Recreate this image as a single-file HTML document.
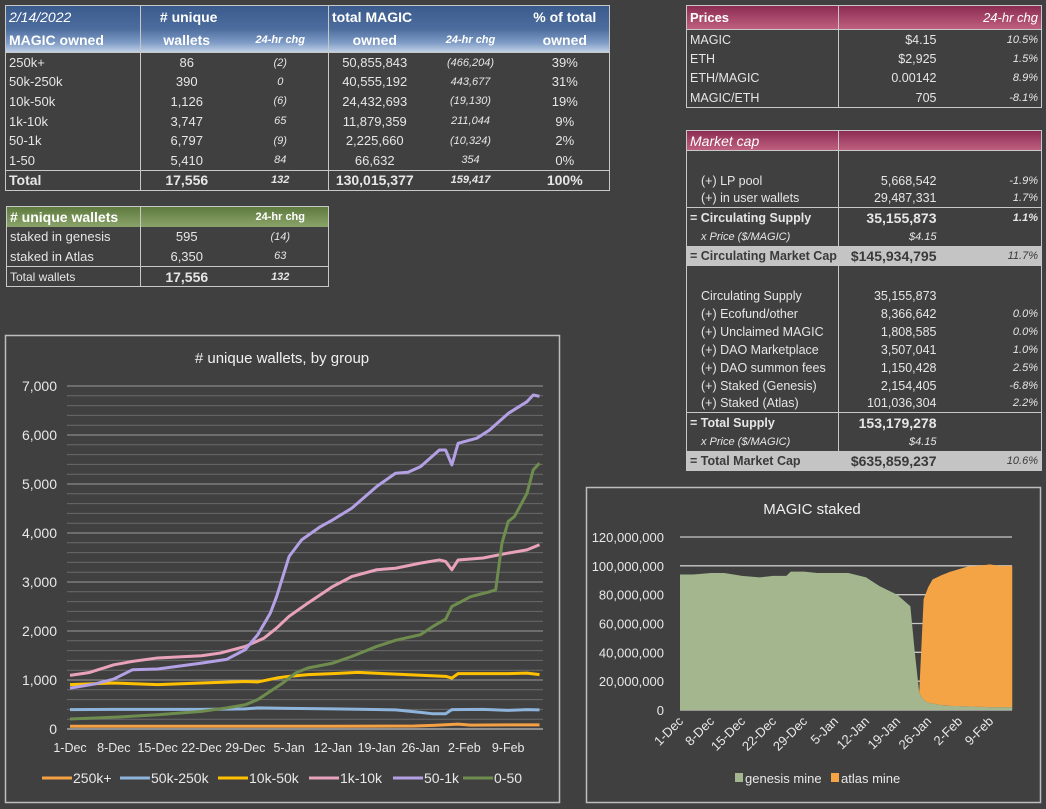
<!DOCTYPE html>
<html><head><meta charset="utf-8">
<style>
body{margin:0;width:1046px;height:809px;background:#404040;overflow:hidden;font-family:"Liberation Sans",sans-serif;color:#e6e6e6;position:relative}
table{position:absolute;border-collapse:collapse;table-layout:fixed;font-size:13px}
td{padding:0 3px;white-space:nowrap;overflow:hidden}
.c{text-align:center}.r{text-align:right}.i{font-style:italic;font-size:11px}.b{font-weight:bold}
.bl{border-left:1px solid #c8c8c8}
.hb{background:linear-gradient(#3d5f91,#5878a8 60%,#a9bedb);color:#fff}
.hg{background:linear-gradient(#5f7a3f,#8aa36a);color:#fff}
.hp{background:linear-gradient(#8c2c52,#c0607f);color:#fff}
.hl td{background:#c4c4c4;color:#3a3a3a}
svg{position:absolute;left:0;top:0}
</style></head><body>
<svg id="charts" width="1046" height="809"></svg>

<table style="left:5px;top:5px;width:604px;border:1px solid #c8c8c8">
<colgroup><col style="width:135px"><col style="width:92px"><col style="width:96px"><col style="width:92px"><col style="width:100px"><col style="width:89px"></colgroup>
<tr class="hb" style="height:23px;font-size:14px;background:linear-gradient(#3a5b8c,#4d6d9e)"><td class="i" style="font-size:14px">2/14/2022</td><td class="c b bl">&nbsp;# unique</td><td></td><td class="b bl">total MAGIC</td><td></td><td class="c b">% of total</td></tr>
<tr class="hb" style="height:24px;font-size:14px;border-bottom:1px solid #c8c8c8;background:linear-gradient(#4d6d9e,#7f9cc6 60%,#c0d0e6)"><td class="b">MAGIC owned</td><td class="c b bl">wallets</td><td class="c b i">24-hr chg</td><td class="c b bl">owned</td><td class="c b i">24-hr chg</td><td class="c b">owned</td></tr>
<tr style="height:19.6px"><td>250k+</td><td class="c bl">86</td><td class="c i">(2)</td><td class="c bl">50,855,843</td><td class="c i">(466,204)</td><td class="c">39%</td></tr>
<tr style="height:19.6px"><td>50k-250k</td><td class="c bl">390</td><td class="c i">0</td><td class="c bl">40,555,192</td><td class="c i">443,677</td><td class="c">31%</td></tr>
<tr style="height:19.6px"><td>10k-50k</td><td class="c bl">1,126</td><td class="c i">(6)</td><td class="c bl">24,432,693</td><td class="c i">(19,130)</td><td class="c">19%</td></tr>
<tr style="height:19.6px"><td>1k-10k</td><td class="c bl">3,747</td><td class="c i">65</td><td class="c bl">11,879,359</td><td class="c i">211,044</td><td class="c">9%</td></tr>
<tr style="height:19.6px"><td>50-1k</td><td class="c bl">6,797</td><td class="c i">(9)</td><td class="c bl">2,225,660</td><td class="c i">(10,324)</td><td class="c">2%</td></tr>
<tr style="height:19.6px"><td>1-50</td><td class="c bl">5,410</td><td class="c i">84</td><td class="c bl">66,632</td><td class="c i">354</td><td class="c">0%</td></tr>
<tr style="height:20px;border-top:1px solid #c8c8c8;font-size:14px" class="b"><td>Total</td><td class="c bl">17,556</td><td class="c i b">132</td><td class="c bl">130,015,377</td><td class="c i b">159,417</td><td class="c">100%</td></tr>
</table>

<table style="left:6px;top:206px;width:322px;border:1px solid #c8c8c8">
<colgroup><col style="width:134px"><col style="width:92px"><col style="width:96px"></colgroup>
<tr class="hg" style="height:20px"><td class="b" style="font-size:14px"># unique wallets</td><td class="bl"></td><td class="c b" style="font-size:11px">24-hr chg</td></tr>
<tr style="height:20px"><td>staked in genesis</td><td class="c bl">595</td><td class="c i">(14)</td></tr>
<tr style="height:20px"><td>staked in Atlas</td><td class="c bl">6,350</td><td class="c i">63</td></tr>
<tr style="height:20px;border-top:1px solid #c8c8c8"><td style="font-size:12px">Total wallets</td><td class="c bl b" style="font-size:14px">17,556</td><td class="c i b">132</td></tr>
</table>

<table style="left:686px;top:5px;width:355px;border:1px solid #c8c8c8;font-size:12.5px">
<colgroup><col style="width:152px"><col style="width:101px"><col style="width:102px"></colgroup>
<tr class="hp" style="height:24px;border-bottom:1px solid #c8c8c8"><td class="b" style="font-size:13px">Prices</td><td class="bl"></td><td class="r i" style="font-size:13px">24-hr chg</td></tr>
<tr style="height:19.5px"><td>MAGIC</td><td class="r bl">$4.15</td><td class="r i">10.5%</td></tr>
<tr style="height:19.5px"><td>ETH</td><td class="r bl">$2,925</td><td class="r i">1.5%</td></tr>
<tr style="height:19.5px"><td>ETH/MAGIC</td><td class="r bl">0.00142</td><td class="r i">8.9%</td></tr>
<tr style="height:19.5px"><td>MAGIC/ETH</td><td class="r bl">705</td><td class="r i">-8.1%</td></tr>
</table>

<table style="left:686px;top:130px;width:355px;border:1px solid #c8c8c8;border-bottom:none;font-size:12.5px">
<colgroup><col style="width:152px"><col style="width:101px"><col style="width:102px"></colgroup>
<tr class="hp" style="height:20px;border-bottom:1px solid #c8c8c8"><td class="i" style="font-size:14px">Market cap</td><td class="bl"></td><td></td></tr>
<tr style="height:21px"><td></td><td class="bl"></td><td></td></tr>
<tr style="height:18px"><td style="padding-left:14px">(+) LP pool</td><td class="r bl">5,668,542</td><td class="r i">-1.9%</td></tr>
<tr style="height:18px"><td style="padding-left:14px">(+) in user wallets</td><td class="r bl">29,487,331</td><td class="r i">1.7%</td></tr>
<tr style="height:20px;border-top:1px solid #c8c8c8"><td class="b">= Circulating Supply</td><td class="r bl b" style="font-size:14px">35,155,873</td><td class="r i b">1.1%</td></tr>
<tr style="height:18px"><td class="i" style="padding-left:14px">x Price ($/MAGIC)</td><td class="r bl i">$4.15</td><td></td></tr>
<tr class="hl" style="height:20px"><td class="b">= Circulating Market Cap</td><td class="r b" style="font-size:14px">$145,934,795</td><td class="r i">11.7%</td></tr>
<tr style="height:21px"><td></td><td class="bl"></td><td></td></tr>
<tr style="height:18px"><td style="padding-left:14px">Circulating Supply</td><td class="r bl">35,155,873</td><td></td></tr>
<tr style="height:18px"><td style="padding-left:14px">(+) Ecofund/other</td><td class="r bl">8,366,642</td><td class="r i">0.0%</td></tr>
<tr style="height:18px"><td style="padding-left:14px">(+) Unclaimed MAGIC</td><td class="r bl">1,808,585</td><td class="r i">0.0%</td></tr>
<tr style="height:18px"><td style="padding-left:14px">(+) DAO Marketplace</td><td class="r bl">3,507,041</td><td class="r i">1.0%</td></tr>
<tr style="height:18px"><td style="padding-left:14px">(+) DAO summon fees</td><td class="r bl">1,150,428</td><td class="r i">2.5%</td></tr>
<tr style="height:18px"><td style="padding-left:14px">(+) Staked (Genesis)</td><td class="r bl">2,154,405</td><td class="r i">-6.8%</td></tr>
<tr style="height:18px"><td style="padding-left:14px">(+) Staked (Atlas)</td><td class="r bl">101,036,304</td><td class="r i">2.2%</td></tr>
<tr style="height:20px;border-top:1px solid #c8c8c8"><td class="b">= Total Supply</td><td class="r bl b" style="font-size:14px">153,179,278</td><td></td></tr>
<tr style="height:18px"><td class="i" style="padding-left:14px">x Price ($/MAGIC)</td><td class="r bl i">$4.15</td><td></td></tr>
<tr class="hl" style="height:20px"><td class="b">= Total Market Cap</td><td class="r b" style="font-size:14px">$635,859,237</td><td class="r i">10.6%</td></tr>
</table>

<script>
// ---- chart 1 data: # unique wallets by group ----
const weekLabels = ["1-Dec","8-Dec","15-Dec","22-Dec","29-Dec","5-Jan","12-Jan","19-Jan","26-Jan","2-Feb","9-Feb"];
const yTicks1 = [0,1000,2000,3000,4000,5000,6000,7000];
const dOrange = [0,14,28,42,55,58,62,64,70,75];
const vOrange = [55,55,55,55,60,75,100,80,85,85];
const dBlue = [0,7,14,21,28,30,35,42,52,56,58,60,61,66,70,73,75];
const vBlue = [395,400,400,400,410,430,420,410,390,340,310,310,395,400,380,395,390];
const dYellow = [0,7,14,21,28,30,33,35,38,42,46,52,60,61,62,70,73,75];
const vYellow = [905,940,905,940,970,960,1040,1075,1110,1130,1155,1120,1075,1040,1130,1130,1140,1110];
const dPink = [0,3,7,10,14,21,24,28,31,33,35,38,42,45,49,52,56,59,60,61,62,66,70,73,75];
const vPink = [1094,1150,1310,1380,1450,1495,1550,1685,1855,2060,2300,2570,2910,3110,3250,3280,3385,3450,3420,3250,3450,3490,3590,3655,3760];
const dPurple = [0,4,7,10,14,21,25,28,30,32,33,35,37,40,42,45,49,52,54,56,59,60,61,62,65,67,70,73,74,75];
const vPurple = [835,920,1020,1210,1225,1345,1420,1620,1925,2365,2700,3520,3860,4130,4270,4505,4950,5220,5240,5355,5695,5695,5390,5830,5935,6100,6440,6680,6816,6790];
const dGreen = [0,7,14,21,25,28,30,32,34,36,38,42,45,49,52,56,58,60,61,64,67,68,69,70,71,73,74,75];
const vGreen = [205,240,290,360,430,495,600,770,940,1140,1245,1345,1480,1685,1810,1925,2095,2240,2500,2700,2800,2840,3790,4235,4335,4810,5290,5425];
// ---- chart 2 data: MAGIC staked (millions) ----
const stakeLabels = weekLabels;
const yTicks2 = [0,20,40,60,80,100,120];
const dGenesis = [0,3,7,10,14,18,21,24,25,28,31,35,38,42,45,49,52,53,54,55,56,58,60,65,70,75];
const vGenesis = [94,94,95,95,93,92,93,93,96,96,95,95,95,92,86,80,72,40,12,7,5,4,3,2.5,2,2];
const dAtlas = [0,52,53,54,55,56,57,59,61,63,65,68,70,72,75];
const vAtlas = [0,0,0,0,70,80,86,90,93,95,97,98,99,98,98];

const svg = document.getElementById('charts');
const NS = 'http://www.w3.org/2000/svg';
function mk(tag, attrs, parent){const e=document.createElementNS(NS,tag);for(const k in attrs)e.setAttribute(k,attrs[k]);(parent||svg).appendChild(e);return e;}

// chart 1
const g1 = mk('g',{});


const fr1 = mk('rect',{x:5.5,y:335.5,width:554,height:467,fill:'none',stroke:'#bdbdbd','stroke-width':1.5},g1);


const t1 = mk('text',{x:282,y:363,'text-anchor':'middle',fill:'#f0f0f0','font-size':15},g1);
t1.textContent='# unique wallets, by group';


const X1 = d => 70 + d*6.26;
const Y1 = v => 729 - v/7000*343;
for(let v=200; v<7000; v+=200){ if(v%1000) mk('line',{x1:67,x2:543,y1:Y1(v),y2:Y1(v),stroke:'#6a6a6a','stroke-width':1},g1); }
yTicks1.forEach(v=>{
  mk('line',{x1:67,x2:543,y1:Y1(v),y2:Y1(v),stroke:v===0?'#a8a8a8':'#9a9a9a','stroke-width':v===0?1.5:1},g1);
  const t=mk('text',{x:57,y:Y1(v)+5,'text-anchor':'end',fill:'#e8e8e8','font-size':14},g1);
  t.textContent=v.toLocaleString('en-US');
  
  
});
weekLabels.forEach((l,i)=>{
  const t=mk('text',{x:X1(i*7),y:752,'text-anchor':'middle',fill:'#e8e8e8','font-size':12.5},g1);
  t.textContent=l;
  
  
});
const series1 = [
  ['250k+','#f4a044',dOrange,vOrange],
  ['50k-250k','#8fb4dc',dBlue,vBlue],
  ['10k-50k','#ffc000',dYellow,vYellow],
  ['1k-10k','#e8a2bb',dPink,vPink],
  ['50-1k','#b4a0e4',dPurple,vPurple],
  ['0-50','#6e8c4e',dGreen,vGreen]];
series1.forEach(s=>{
  const p=mk('polyline',{points:s[2].map((d,i)=>X1(d)+','+Y1(s[3][i])).join(' '),fill:'none',stroke:s[1],'stroke-width':3,'stroke-linejoin':'round'},g1);
  
  
});
const legX=[42,120,218,309,393,463];
series1.forEach((s,i)=>{
  const l=mk('line',{x1:legX[i],x2:legX[i]+30,y1:778,y2:778,stroke:s[1],'stroke-width':3},g1);
  
  
  const t=mk('text',{x:legX[i]+31,y:783,fill:'#e8e8e8','font-size':14},g1);
  t.textContent=s[0];
  
  
});

// chart 2
const g2 = mk('g',{});


const fr2 = mk('rect',{x:586.5,y:487.5,width:454,height:315,fill:'none',stroke:'#bdbdbd','stroke-width':1.5},g2);


const t2 = mk('text',{x:812,y:514,'text-anchor':'middle',fill:'#f0f0f0','font-size':15},g2);
t2.textContent='MAGIC staked';


const X2 = d => 680 + d*4.43;
const Y2 = v => 710 - v/120*173;
yTicks2.forEach(v=>{
  mk('line',{x1:680,x2:1012,y1:Y2(v),y2:Y2(v),stroke:'#c8c8c8','stroke-width':1.3},g2);
  const t=mk('text',{x:664,y:Y2(v)+5,'text-anchor':'end',fill:'#e8e8e8','font-size':13},g2);
  t.textContent=(v*1000000).toLocaleString('en-US');
  
  
});
const gen = mk('polygon',{points:X2(dGenesis[0])+','+Y2(0)+' '+dGenesis.map((d,i)=>X2(d)+','+Y2(vGenesis[i])).join(' ')+' '+X2(dGenesis[dGenesis.length-1])+','+Y2(0),fill:'#a3b68e'},g2);


function genAt(d){for(let i=1;i<dGenesis.length;i++){if(d<=dGenesis[i]){const f=(d-dGenesis[i-1])/(dGenesis[i]-dGenesis[i-1]);return vGenesis[i-1]+f*(vGenesis[i]-vGenesis[i-1]);}}return vGenesis[vGenesis.length-1];}
const aIdx = dAtlas.map((d,i)=>i).filter(i=>dAtlas[i]>=54);
const atlTop = aIdx.map(i=>X2(dAtlas[i])+','+Y2(genAt(dAtlas[i])+vAtlas[i]));
const atlBot = aIdx.slice().reverse().map(i=>X2(dAtlas[i])+','+Y2(genAt(dAtlas[i])));
const atl = mk('polygon',{points:atlTop.concat(atlBot).join(' '),fill:'#f4a444'},g2);


stakeLabels.forEach((l,i)=>{
  const x=X2(i*7)+4, y=722;
  const t=mk('text',{x:x,y:y,'text-anchor':'end',fill:'#e8e8e8','font-size':13,transform:'rotate(-45 '+x+' '+y+')'},g2);
  t.textContent=l;
  
  
});
[['genesis mine','#a3b68e',735],['atlas mine','#f4a444',831]].forEach(s=>{
  const r=mk('rect',{x:s[2],y:773,width:8,height:9,fill:s[1]},g2);
  
  
  const t=mk('text',{x:s[2]+10,y:783,fill:'#e8e8e8','font-size':13},g2);
  t.textContent=s[0];
  
  
});
</script>
</body></html>
